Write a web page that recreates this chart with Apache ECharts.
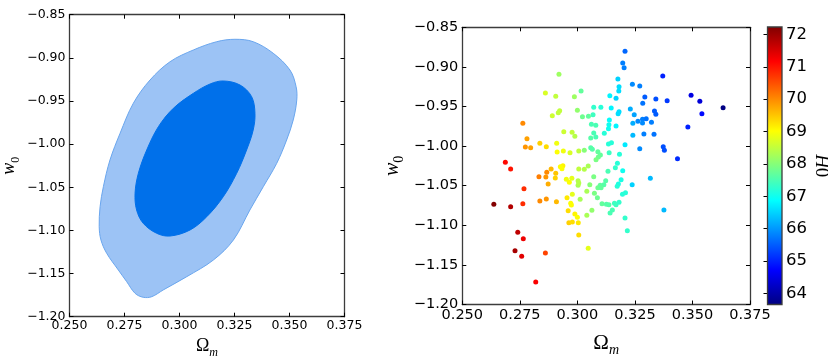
<!DOCTYPE html>
<html><head><meta charset="utf-8">
<script src="https://cdn.jsdelivr.net/npm/echarts@6/dist/echarts.min.js"></script>
<style>html,body{margin:0;padding:0;background:#fff}#c{width:828px;height:358px}</style>
</head><body><div id="c"></div>
<script>
// ---- data ----
const omegaTicks = [0.250, 0.275, 0.300, 0.325, 0.350, 0.375];
const w0Ticks = [-1.20, -1.15, -1.10, -1.05, -1.00, -0.95, -0.90, -0.85];
const h0Ticks = [64, 65, 66, 67, 68, 69, 70, 71, 72];
const h0Min = 63.66, h0Max = 72.23;

// 2-sigma (outer) and 1-sigma (inner) confidence contours
const outerOmega = [0.3252,0.3335,0.3426,0.3502,0.3530,0.3533,0.3517,0.3487,0.3442,0.3381,0.3320,0.3245,0.3154,0.3033,0.2926,0.2874,0.2835,0.2798,0.2760,0.2722,0.2669,0.2643,0.2635,0.2639,0.2654,0.2684,0.2730,0.2790,0.2866,0.2957,0.3063,0.3169];
const outerW0 = [-0.8785,-0.8813,-0.8947,-0.9141,-0.9334,-0.9489,-0.9720,-0.9952,-1.0222,-1.0493,-1.0763,-1.1111,-1.1343,-1.1536,-1.1690,-1.1768,-1.1775,-1.1729,-1.1594,-1.1459,-1.1265,-1.1111,-1.0957,-1.0725,-1.0493,-1.0184,-0.9874,-0.9527,-0.9257,-0.9045,-0.8909,-0.8813];
const innerOmega = [0.3199,0.3275,0.3328,0.3343,0.3335,0.3305,0.3260,0.3199,0.3124,0.3048,0.2957,0.2896,0.2835,0.2805,0.2798,0.2813,0.2851,0.2904,0.2972,0.3063,0.3139];
const innerW0 = [-0.9268,-0.9315,-0.9450,-0.9643,-0.9836,-1.0068,-1.0338,-1.0609,-1.0841,-1.0995,-1.1065,-1.1033,-1.0917,-1.0763,-1.0570,-1.0338,-1.0068,-0.9798,-0.9585,-0.9411,-0.9303];

// samples
const sampleOmega = [0.2637,0.2687,0.2710,0.2710,0.2741,0.2729,0.2758,0.2765,0.2768,0.2763,0.2819,0.2861,0.2763,0.2781,0.2774,0.2797,0.2837,0.2865,0.2833,0.2867,0.2886,0.2906,0.2904,0.2863,0.2873,0.2865,0.2837,0.2909,0.2910,0.2912,0.2939,0.2968,0.3006,0.2937,0.2933,0.2926,0.3006,0.2952,0.2965,0.2976,0.3003,0.3003,0.3006,0.3012,0.2955,0.2978,0.2971,0.2974,0.2960,0.2989,0.3000,0.2963,0.2978,0.3004,0.3006,0.3047,0.2920,0.2861,0.2906,0.3016,0.2987,0.2891,0.2917,0.2923,0.3000,0.2941,0.2977,0.2989,0.3207,0.3197,0.3203,0.3371,0.3176,0.3181,0.3180,0.3239,0.3271,0.3141,0.3168,0.3293,0.3341,0.3390,0.3494,0.3532,0.3633,0.3541,0.3284,0.3230,0.3247,0.3335,0.3341,0.3147,0.3181,0.3177,0.3071,0.3102,0.3068,0.3048,0.3022,0.3139,0.3137,0.3135,0.3168,0.3241,0.3263,0.3283,0.3299,0.3283,0.3322,0.3480,0.3061,0.3080,0.3117,0.3071,0.3058,0.3080,0.3241,0.3289,0.3333,0.3207,0.3148,0.3135,0.3271,0.3373,0.3378,0.3435,0.3058,0.3065,0.3089,0.3030,0.3138,0.3183,0.3100,0.3091,0.3081,0.3174,0.3165,0.3197,0.3133,0.3047,0.3030,0.3071,0.3317,0.3123,0.3190,0.3099,0.3115,0.3089,0.3103,0.3178,0.3173,0.3054,0.3238,0.3041,0.3074,0.3087,0.3196,0.3209,0.3107,0.3126,0.3137,0.3161,0.3168,0.3181,0.3063,0.3152,0.3142,0.3041,0.3207,0.3376,0.3217];
const sampleW0 = [-1.0735,-1.0205,-1.0289,-1.0765,-1.1088,-1.1321,-1.1391,-1.1169,-1.0538,-1.0727,-1.1716,-1.1350,-0.9712,-0.9907,-1.0011,-1.0020,-0.9965,-1.0008,-1.0386,-1.0331,-1.0289,-1.0343,-1.0403,-1.0390,-1.0479,-1.0668,-1.0693,-1.0702,-0.9965,-1.0074,-1.0062,-1.0083,-1.0062,-1.0247,-1.0285,-1.0261,-1.0289,-1.0419,-1.0457,-1.0407,-1.0437,-1.0495,-1.0466,-1.0672,-1.0652,-1.0609,-1.0722,-1.0744,-1.0816,-1.0857,-1.0899,-1.0967,-1.0958,-1.0967,-1.1122,-1.1290,-0.9093,-0.9330,-0.9371,-0.9304,-0.9376,-0.9616,-0.9578,-0.9553,-0.9548,-0.9818,-0.9826,-0.9876,-0.8803,-0.8951,-0.9010,-0.9115,-0.9153,-0.9250,-0.9304,-0.9220,-0.9241,-0.9364,-0.9396,-0.9380,-0.9405,-0.9427,-0.9359,-0.9434,-0.9515,-0.9591,-0.9460,-0.9532,-0.9604,-0.9557,-0.9598,-0.9519,-0.9566,-0.9591,-0.9510,-0.9510,-0.9604,-0.9624,-0.9629,-0.9670,-0.9730,-0.9780,-0.9746,-0.9712,-0.9687,-0.9662,-0.9654,-0.9708,-0.9700,-0.9759,-0.9725,-0.9737,-0.9838,-0.9835,-0.9898,-0.9885,-0.9864,-0.9847,-0.9851,-0.9982,-0.9957,-0.9973,-1.0033,-1.0008,-1.0053,-1.0159,-1.0020,-1.0040,-1.0071,-1.0053,-1.0083,-1.0104,-1.0112,-1.0138,-1.0172,-1.0217,-1.0273,-1.0311,-1.0318,-1.0251,-1.0293,-1.0386,-1.0407,-1.0437,-1.0424,-1.0495,-1.0487,-1.0525,-1.0525,-1.0479,-1.0508,-1.0487,-1.0487,-1.0571,-1.0596,-1.0652,-1.0609,-1.0588,-1.0727,-1.0735,-1.0740,-1.0722,-1.0740,-1.0710,-1.0811,-1.0807,-1.0845,-1.0874,-1.0908,-1.0807,-1.1068];
const sampleH0 = [72.2,71.1,71.0,71.8,71.7,71.9,71.4,71.3,70.8,70.8,71.2,70.6,70.0,69.8,69.9,69.8,69.4,69.3,70.1,70.0,69.6,69.5,69.4,69.9,69.7,69.9,70.0,69.6,68.9,69.0,68.9,68.7,68.5,69.1,69.0,69.0,68.5,68.9,69.0,68.8,68.4,68.3,68.4,68.3,69.2,68.8,69.0,69.0,69.3,69.1,69.0,69.4,69.3,69.2,69.3,68.8,68.2,68.7,68.5,67.7,68.2,68.6,68.5,68.5,68.1,68.6,68.5,68.4,65.6,65.8,65.8,65.0,66.5,66.6,66.6,65.9,65.8,66.8,66.5,65.5,65.4,65.2,64.5,64.4,63.7,64.8,65.7,66.2,66.1,65.5,65.5,66.8,66.6,66.6,67.3,67.2,67.4,67.7,67.8,66.9,67.0,67.0,66.8,66.2,65.9,65.8,65.7,65.9,65.8,65.0,67.5,67.5,67.2,67.5,67.6,67.5,66.3,65.8,65.7,66.7,67.2,67.2,65.9,65.4,65.4,65.1,67.6,67.6,67.7,68.0,67.4,67.2,67.7,67.8,67.9,67.2,67.3,67.0,67.5,68.3,68.4,67.9,66.3,67.6,67.1,67.7,67.6,67.8,67.7,67.1,67.2,68.0,66.5,68.3,67.9,67.8,67.2,67.2,67.7,67.6,67.6,67.4,67.4,67.3,68.1,67.5,67.5,68.3,67.3,66.3,67.3];

// ---- styling ----
const JET = ['#00007f','#0000ff','#007fff','#00ffff','#7fff7f','#ffff00','#ff7f00','#ff0000','#7f0000'];
const FRAME = '#3c3c3c';
const TICKFONT = 'DejaVu Sans';
const MATHFONT = 'Liberation Serif';
const fmtNum = (v, d) => v.toFixed(d).replace('-', '\u2212');
function richFor(big) {
  const small = Math.round(big * 0.68);
  const lh = big + 1, pad = Math.round(big * 0.52);
  return {
    i: {fontFamily: MATHFONT, fontStyle: 'italic', fontSize: big, lineHeight: lh, verticalAlign: 'top', color: '#000'},
    u: {fontFamily: MATHFONT, fontSize: big, lineHeight: lh, verticalAlign: 'top', color: '#000'},
    s: {fontFamily: MATHFONT, fontSize: small, lineHeight: small, verticalAlign: 'top', padding: [pad, 0, 0, 0], color: '#000'},
    si: {fontFamily: MATHFONT, fontStyle: 'italic', fontSize: small, lineHeight: small, verticalAlign: 'top', padding: [pad, 0, 0, 0], color: '#000'}
  };
}

const grids = [
  {left: 69.5, top: 14.7, width: 275, height: 302},
  {left: 462.3, top: 27.3, width: 287.7, height: 277.2},
  {left: 767.5, top: 27, width: 14.5, height: 277.5}
].map(g => Object.assign({show: false, containLabel: false, outerBoundsMode: 'none'}, g));

function omegaAxis(gi, pos, main, gap, tickFont, nameFont) {
  return {
    type: 'value', gridIndex: gi, position: pos,
    min: omegaTicks[0], max: omegaTicks[omegaTicks.length - 1], interval: 0.025,
    axisLine: {show: true, onZero: false, lineStyle: {color: FRAME, width: 1.3}},
    axisTick: {show: true, inside: true, length: 4, lineStyle: {color: '#000', width: 1}},
    axisLabel: {show: main, margin: 3, color: '#000', fontFamily: TICKFONT, fontSize: tickFont,
      formatter: v => fmtNum(v, 3), showMinLabel: true, showMaxLabel: true},
    splitLine: {show: false},
    name: main ? '{u|\u03A9}{si|m}' : '', nameLocation: 'middle', nameGap: gap, nameMoveOverlap: false,
    nameTextStyle: {rich: richFor(nameFont || 19)}
  };
}
function w0Axis(gi, pos, main, gap, tickFont, nameFont) {
  return {
    type: 'value', gridIndex: gi, position: pos,
    min: w0Ticks[0], max: w0Ticks[w0Ticks.length - 1], interval: 0.05,
    axisLine: {show: true, onZero: false, lineStyle: {color: FRAME, width: 1.3}},
    axisTick: {show: true, inside: true, length: 4, lineStyle: {color: '#000', width: 1}},
    axisLabel: {show: main, margin: 4, color: '#000', fontFamily: TICKFONT, fontSize: tickFont,
      formatter: v => fmtNum(v, 2), showMinLabel: true, showMaxLabel: true},
    splitLine: {show: false},
    name: main ? '{i|w}{s|0}' : '', nameLocation: 'middle', nameGap: gap, nameRotate: 90, nameMoveOverlap: false,
    nameTextStyle: {rich: richFor(nameFont || 19)}
  };
}

const xAxes = [
  omegaAxis(0, 'bottom', true, 21, 12.5, 18), omegaAxis(0, 'top', false, 0, 12.5),
  omegaAxis(1, 'bottom', true, 28, 14.5, 21), omegaAxis(1, 'top', false, 0, 14.5),
  {type: 'value', gridIndex: 2, min: 0, max: 1, show: false}
];
const yAxes = [
  w0Axis(0, 'left', true, 50, 12.5, 18), w0Axis(0, 'right', false, 0, 12.5),
  w0Axis(1, 'left', true, 59, 14.5, 20), w0Axis(1, 'right', false, 0, 14.5),
  {
    type: 'value', gridIndex: 2, position: 'right', min: h0Min, max: h0Max,
    axisLine: {show: false},
    axisTick: {show: true, inside: true, length: 4, customValues: h0Ticks, lineStyle: {color: '#000', width: 1}},
    axisLabel: {show: true, margin: 4, color: '#000', fontFamily: TICKFONT, fontSize: 16.5, customValues: h0Ticks,
      formatter: v => String(Math.round(v))},
    splitLine: {show: false},
    name: '{i|H}{u|0}', nameLocation: 'middle', nameGap: 28, nameRotate: -90, nameMoveOverlap: false,
    nameTextStyle: {rich: richFor(19)}
  }
];

function contourSeries(xs, ys, fill, stroke) {
  return {
    type: 'custom', xAxisIndex: 0, yAxisIndex: 0, silent: true, clip: true,
    data: [[xs[0], ys[0]]],
    renderItem: (params, api) => ({
      type: 'polygon',
      shape: {points: xs.map((x, i) => api.coord([x, ys[i]])), smooth: 0.35},
      style: {fill: fill, stroke: stroke, lineWidth: 1}
    })
  };
}

const scatterData = sampleOmega.map((x, i) => [x, sampleW0[i], sampleH0[i]]);

const option = {
  animation: false,
  backgroundColor: '#fff',
  grid: grids,
  xAxis: xAxes,
  yAxis: yAxes,
  visualMap: {
    type: 'continuous', show: false, seriesIndex: 2, dimension: 2,
    min: h0Min, max: h0Max, inRange: {color: JET}
  },
  series: [
    contourSeries(outerOmega, outerW0, '#9cc3f5', '#6aa6ee'),
    contourSeries(innerOmega, innerW0, '#0070ea', '#0070ea'),
    {
      type: 'scatter', xAxisIndex: 2, yAxisIndex: 2, symbol: 'circle', symbolSize: 5,
      data: scatterData, itemStyle: {opacity: 1, borderWidth: 0}
    },
    {
      type: 'custom', xAxisIndex: 4, yAxisIndex: 4, silent: true,
      data: [[0, h0Min]],
      renderItem: (params, api) => {
        const a = api.coord([0, h0Max]), b = api.coord([1, h0Min]);
        return {
          type: 'rect',
          shape: {x: a[0], y: a[1], width: b[0] - a[0], height: b[1] - a[1]},
          style: {
            fill: new echarts.graphic.LinearGradient(0, 1, 0, 0,
              JET.map((c, i) => ({offset: i / (JET.length - 1), color: c}))),
            stroke: FRAME, lineWidth: 1.3
          }
        };
      }
    }
  ]
};
const chart = echarts.init(document.getElementById('c'), null, {renderer: 'canvas'});
chart.setOption(option);
</script>
</body></html>
